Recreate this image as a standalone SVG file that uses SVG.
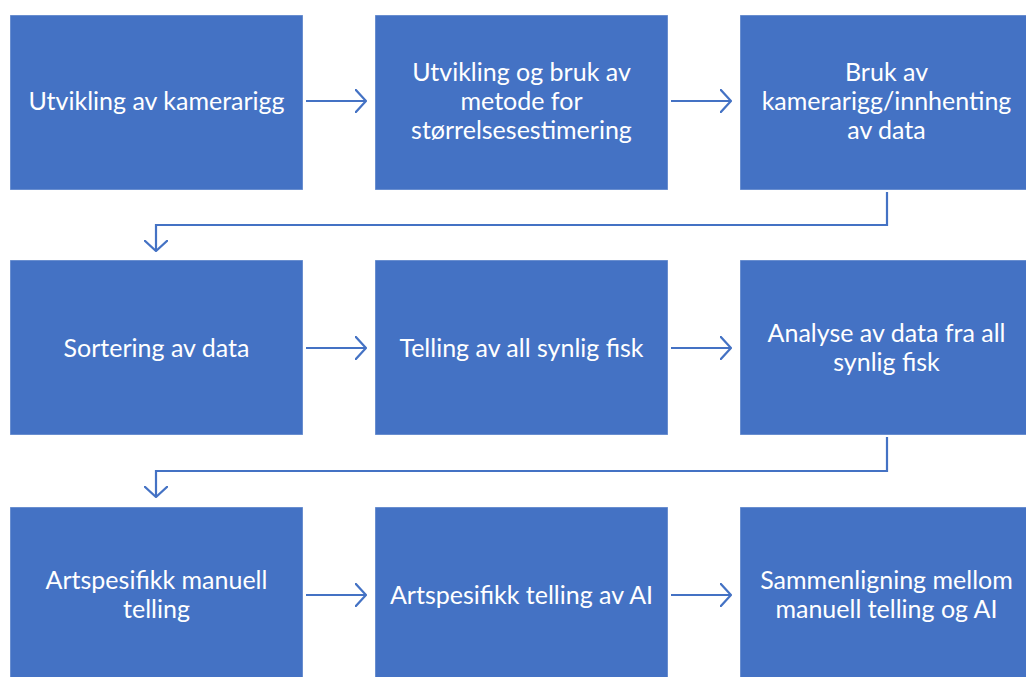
<svg xmlns="http://www.w3.org/2000/svg" width="1026" height="677" viewBox="0 0 1026 677">
<style>
.box{fill:#4472C4;stroke:#ffffff;stroke-width:1;stroke-opacity:0.4}
.t{font-family:Lato,"Open Sans","Liberation Sans",sans-serif;font-size:25px;fill:#ffffff;text-anchor:middle}
.c{fill:none;stroke:#4472C4;stroke-width:2.2}
</style>
<defs>
<marker id="ah" viewBox="0 0 12 24" refX="11" refY="12" markerWidth="12" markerHeight="24" markerUnits="userSpaceOnUse" orient="auto">
<path d="M0,0 L11,12 L0,24" fill="none" stroke="#4472C4" stroke-width="2.2"/>
</marker>
</defs>
<rect width="1026" height="677" fill="#ffffff"/>
<g id="n1"><rect class="box" x="10" y="15" width="293" height="175"/><text class="t" x="156.5" y="110">Utvikling av kamerarigg</text></g>
<g id="n2"><rect class="box" x="375" y="15" width="293" height="175"/><text class="t" x="521.5"><tspan x="521.5" y="81">Utvikling og bruk av</tspan><tspan x="521.5" y="110">metode for</tspan><tspan x="521.5" y="139">størrelsesestimering</tspan></text></g>
<g id="n3"><rect class="box" x="740" y="15" width="293" height="175"/><text class="t" x="886.5"><tspan x="886.5" y="81">Bruk av</tspan><tspan x="886.5" y="110">kamerarigg/innhenting</tspan><tspan x="886.5" y="139">av data</tspan></text></g>
<g id="n4"><rect class="box" x="10" y="260" width="293" height="175"/><text class="t" x="156.5" y="357">Sortering av data</text></g>
<g id="n5"><rect class="box" x="375" y="260" width="293" height="175"/><text class="t" x="521.5" y="357">Telling av all synlig fisk</text></g>
<g id="n6"><rect class="box" x="740" y="260" width="293" height="175"/><text class="t" x="886.5"><tspan x="886.5" y="342">Analyse av data fra all</tspan><tspan x="886.5" y="371">synlig fisk</tspan></text></g>
<g id="n7"><rect class="box" x="10" y="507" width="293" height="175"/><text class="t" x="156.5"><tspan x="156.5" y="589">Artspesifikk manuell</tspan><tspan x="156.5" y="618">telling</tspan></text></g>
<g id="n8"><rect class="box" x="375" y="507" width="293" height="175"/><text class="t" x="521.5" y="604">Artspesifikk telling av AI</text></g>
<g id="n9"><rect class="box" x="740" y="507" width="293" height="175"/><text class="t" x="886.5"><tspan x="886.5" y="589">Sammenligning mellom</tspan><tspan x="886.5" y="618">manuell telling og AI</tspan></text></g>
<g id="connectors">
<path class="c" d="M306,101 H366" marker-end="url(#ah)"/>
<path class="c" d="M671,101 H731" marker-end="url(#ah)"/>
<path class="c" d="M887,192 V225 H156 V251" marker-end="url(#ah)"/>
<path class="c" d="M306,348 H366" marker-end="url(#ah)"/>
<path class="c" d="M671,348 H731" marker-end="url(#ah)"/>
<path class="c" d="M887,437 V471 H156 V497" marker-end="url(#ah)"/>
<path class="c" d="M306,595 H366" marker-end="url(#ah)"/>
<path class="c" d="M671,595 H731" marker-end="url(#ah)"/>
</g>
</svg>
